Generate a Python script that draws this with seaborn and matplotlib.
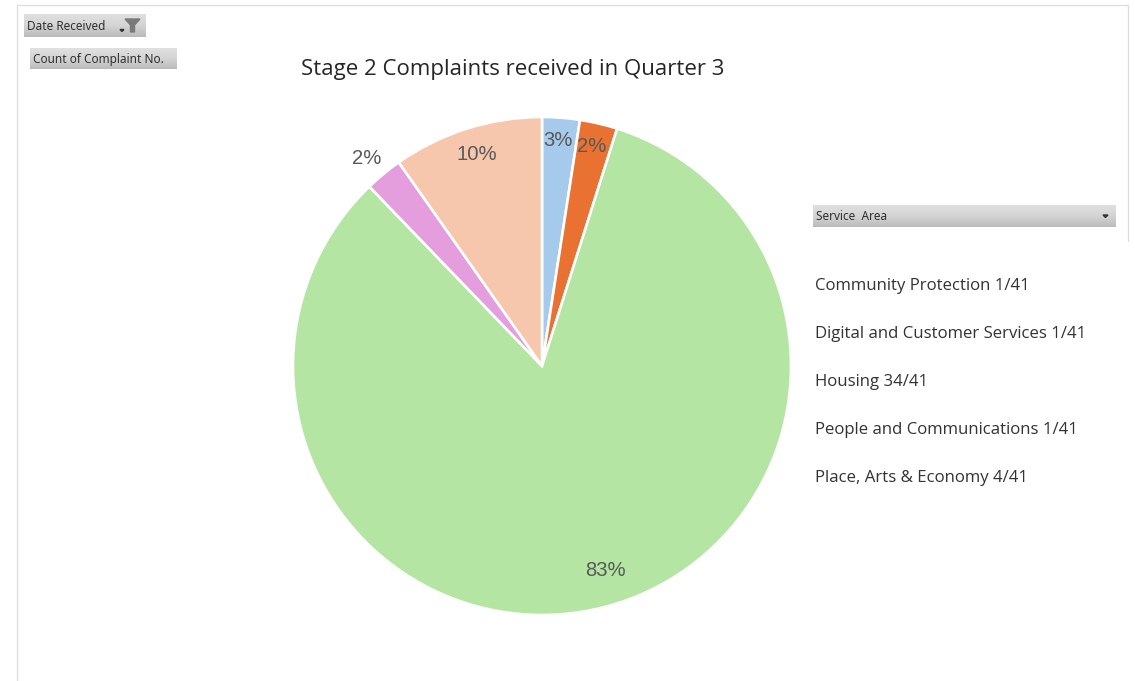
import numpy as np
import matplotlib
matplotlib.use("Agg")
import matplotlib.pyplot as plt
import seaborn as sns

# complaints per service area, out of 41
areas = ['Community Protection', 'Digital and Customer Services', 'Housing',
         'People and Communications', 'Place, Arts & Economy']
counts = [1, 1, 34, 1, 4]
pct_labels = ['3%', '2%', '83%', '2%', '10%']
colours = ['#A6CAEC', '#E97132', '#B4E5A2', '#E59EDD', '#F6C6AD']
title = 'Stage 2 Complaints received in Quarter 3'

sns.set_theme(style='white')
plt.rcParams['font.family'] = ['Open Sans', 'DejaVu Sans']

W, H = 1135, 681
fig = plt.figure(figsize=(W / 100, H / 100), dpi=100)

# overlay in pixel coordinates for frame, buttons and text
bg = fig.add_axes([0, 0, 1, 1])
bg.set_xlim(0, W)
bg.set_ylim(H, 0)
bg.axis('off')

# worksheet frame
frame = '#DDDDDD'
bg.plot([16.5, 16.5], [5, H], color=frame, lw=0.9)
bg.plot([16.5, 1127.5], [5, 5], color=frame, lw=0.9)
bg.plot([1127.5, 1127.5], [5, 241], color=frame, lw=0.9)

# pie
cx, cy, r = 542, 366, 249
ax = fig.add_axes([(cx - r) / W, 1 - (cy + r) / H, 2 * r / W, 2 * r / H])
ax.pie(counts, colors=colours, startangle=90, counterclock=False, radius=1,
       wedgeprops={'edgecolor': 'white', 'linewidth': 1.9})
ax.set_xlim(-1, 1)
ax.set_ylim(-1, 1)
ax.set_zorder(1)

# top layer for text
top = fig.add_axes([0, 0, 1, 1])
top.set_xlim(0, W)
top.set_ylim(H, 0)
top.axis('off')
top.set_zorder(2)
top.patch.set_alpha(0)


def button(x0, y0, x1, y1, text, tx):
    grad = np.linspace(0, 1, 32).reshape(-1, 1)
    cmap = matplotlib.colors.LinearSegmentedColormap.from_list('btn', ['#E0E0E0', '#D4D4D4', '#BBBBBB'])
    top.imshow(grad, extent=[x0, x1, y1, y0], cmap=cmap, aspect='auto', zorder=1)
    top.text(tx, (y0 + y1) / 2 + 1, text, fontsize=8.5, color='#303030', va='center', ha='left',
             family=['Noto Sans', 'DejaVu Sans'], zorder=3)


button(24, 14, 146, 37, 'Date Received', 27)
button(30, 48, 177, 69, 'Count of Complaint No.', 33)
button(813, 205, 1116, 227, 'Service  Area', 816)
top.set_xlim(0, W)
top.set_ylim(H, 0)

# funnel and dropdown arrows on the buttons
top.fill([125, 140, 134.5, 134.5, 130.5, 130.5], [19, 19, 25, 32, 32, 25], color='#7A7A7A', zorder=3)
top.fill([120, 124, 122], [29.5, 29.5, 31.5], color='#333333', zorder=3)
top.fill([1103, 1108, 1105.5], [215, 215, 217.5], color='#333333', zorder=3)

top.text(513, 69, title, fontsize=16, color='#262626', ha='center', va='center')

# percentage labels
label_x = [558, 592, 605, 367, 477]
label_y = [141, 147, 571, 158, 154]
for lab, lx, ly in zip(pct_labels, label_x, label_y):
    top.text(lx, ly, lab, fontsize=14.6, color='#595959', ha='center', va='center',
             family=['Liberation Sans', 'DejaVu Sans'])

# service area list
list_y = [286, 334, 382, 430, 478]
for name, n, ly in zip(areas, counts, list_y):
    top.text(815, ly, f'{name} {n}/{sum(counts)}', fontsize=12.1, color='#333333', ha='left', va='center')

fig.savefig('out.png', dpi=100)
